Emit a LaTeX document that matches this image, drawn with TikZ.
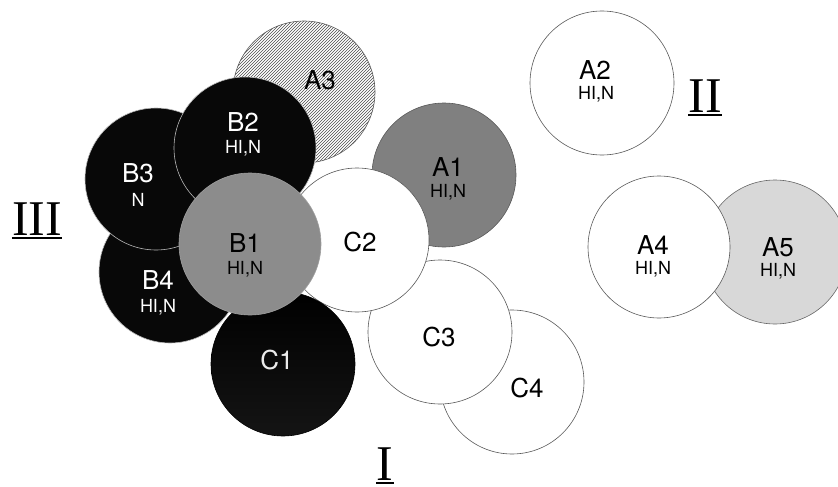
\documentclass[tikz,border=0pt]{standalone}
\usepackage{fontspec}
\setmainfont{Liberation Serif}
\newfontfamily\hel{TeX Gyre Heros}
\usetikzlibrary{patterns}
\definecolor{midgray}{HTML}{8C8C8C}
\definecolor{darkgrayA}{HTML}{808080}
\definecolor{lightgrayA}{HTML}{D8D8D8}
\tikzset{
  disc/.style={circle, inner sep=0pt, minimum size=#1, line width=0.6pt},
  whitedisc/.style={disc=#1, fill=white, draw=black!65},
  blackdisc/.style={disc=#1, fill=black!97, draw=gray!55},
  biglabel/.style={font=\hel\fontsize{26}{26}\selectfont, inner sep=0pt},
  sublabel/.style={font=\hel\fontsize{18}{18}\selectfont, inner sep=0pt},
  numeral/.style={font=\fontsize{50}{50}\selectfont, inner sep=0pt, anchor=base},
  uline/.style={line width=1.8pt}
}
\begin{document}
\begin{tikzpicture}[x=1pt, y=-1pt]
\useasboundingbox (0,0) rectangle (838,487);
% --- circles, back to front ---
\node[disc=142pt, pattern=north east lines, pattern color=black!70, draw=black!65] (a3) at (304,92) {};
\node[disc=144pt, fill=darkgrayA, draw=black!65] (a1) at (444,175) {};
\node[whitedisc=144pt] (c4) at (512,382) {};
\node[whitedisc=144pt] (c3) at (440,332) {};
\node[whitedisc=144pt] (c2) at (357,240) {};
\node[disc=144pt, top color=black, bottom color=black!92!white, draw=black] (c1) at (283,364) {};
\node[blackdisc=142pt] (b4) at (170,272) {};
\node[blackdisc=142pt] (b3) at (156,179) {};
\node[blackdisc=142pt] (b2) at (245,148) {};
\node[disc=142pt, fill=midgray, draw=gray!75] (b1) at (250,244) {};
\node[whitedisc=144pt] (a2) at (602,83) {};
\node[disc=144pt, fill=lightgrayA, draw=black!60] (a5) at (775,252) {};
\node[whitedisc=142pt] (a4) at (659,247) {};
% --- labels ---
\node[biglabel] (la3) at (320,80) {A3};
\node[biglabel] (la1) at (448,167) {A1};
\node[sublabel] (sa1) at (448,192) {HI,N};
\node[biglabel] (lc4) at (527,388) {C4};
\node[biglabel] (lc3) at (439,337) {C3};
\node[biglabel] (lc2) at (360,242) {C2};
\node[biglabel, text=white!92!black] (lc1) at (277,360) {C1};
\node[biglabel, text=white] (lb4) at (158,280) {B4};
\node[sublabel, text=white] (sb4) at (158,307) {HI,N};
\node[biglabel, text=white] (lb3) at (138,173) {B3};
\node[sublabel, text=white] (sb3) at (138,200) {N};
\node[biglabel, text=white] (lb2) at (243,122) {B2};
\node[sublabel, text=white] (sb2) at (243,148) {HI,N};
\node[biglabel] (lb1) at (245,243) {B1};
\node[sublabel] (sb1) at (245,269) {HI,N};
\node[biglabel] (la2) at (595,70) {A2};
\node[sublabel] (sa2) at (596,94) {HI,N};
\node[biglabel] (la4) at (653,245) {A4};
\node[sublabel] (sa4) at (653,269) {HI,N};
\node[biglabel] (la5) at (778,247) {A5};
\node[sublabel] (sa5) at (778,271) {HI,N};
% --- roman numerals ---
\node[numeral] (n1) at (385,480) {I};
\node[numeral] (n2) at (705,112) {II};
\node[numeral] (n3) at (37,235) {III};
\draw[uline] ([yshift=-2.8pt]n1.base west) -- ([yshift=-2.8pt]n1.base east);
\draw[uline] ([yshift=-3pt]n2.base west) -- ([yshift=-3pt]n2.base east);
\draw[uline] ([yshift=-3pt]n3.base west) -- ([yshift=-3pt]n3.base east);
\end{tikzpicture}
\end{document}
